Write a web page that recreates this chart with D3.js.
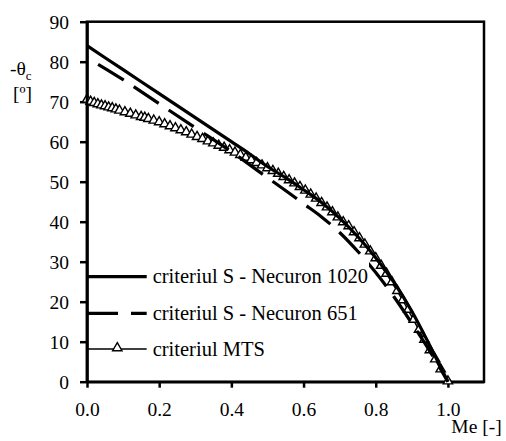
<!DOCTYPE html>
<html><head><meta charset="utf-8">
<script src="https://cdn.jsdelivr.net/npm/d3@7"></script>
<style>body{margin:0;background:#fff}svg{display:block}text{font-family:"Liberation Serif","Times New Roman",Tinos,"DejaVu Serif",serif !important;fill:#000}</style>
</head><body><svg id="c" width="506" height="441"></svg>
<script>
const xTicks = [0, 0.2, 0.4, 0.6, 0.8, 1.0];
const yTicks = [0, 10, 20, 30, 40, 50, 60, 70, 80, 90];
const seriesNames = ["criteriul S - Necuron 1020", "criteriul S - Necuron 651", "criteriul MTS"];

const necuron1020Me = [0, 0.1, 0.2, 0.3, 0.4, 0.45, 0.5, 0.55, 0.6, 0.65, 0.7, 0.75, 0.8, 0.85, 0.9, 0.95, 1.0];
const necuron1020Th = [84, 78, 72, 66, 60, 57, 53.8, 51.0, 48.0, 44.8, 40.9, 36.3, 31.0, 24.9, 17.6, 9.0, 0];

const necuron651Me = [0, 0.1, 0.2, 0.3, 0.4, 0.5, 0.55, 0.6, 0.65, 0.7, 0.75, 0.8, 0.85, 0.9, 0.95, 1.0];
const necuron651Th = [81, 75.5, 69.5, 63.5, 57.5, 51, 47.8, 44.5, 41.2, 37.3, 32.6, 27.3, 21.3, 14.6, 7.6, 0];

const mtsMe = [0.000,0.010,0.020,0.030,0.040,0.050,0.060,0.070,0.080,0.090,0.105,0.120,0.135,0.150,0.160,0.170,0.185,0.200,0.215,0.230,0.245,0.260,0.275,0.290,0.305,0.320,0.335,0.350,0.365,0.380,0.395,0.410,0.425,0.440,0.455,0.470,0.485,0.500,0.515,0.530,0.545,0.560,0.575,0.590,0.605,0.620,0.635,0.650,0.665,0.680,0.695,0.710,0.725,0.740,0.755,0.770,0.785,0.800,0.815,0.830,0.845,0.860,0.875,0.890,0.905,0.920,0.935,0.950,0.965,0.980,1.000];
const mtsTh = [70.4,69.9,69.6,69.3,69.0,68.8,68.5,68.3,68.0,67.7,67.3,66.9,66.5,66.1,65.9,65.6,65.2,64.8,64.3,63.8,63.3,62.8,62.3,61.7,61.1,60.6,60.0,59.5,58.9,58.4,57.8,57.2,56.6,55.9,55.3,54.6,54.0,53.3,52.6,51.9,51.1,50.3,49.5,48.6,47.7,46.7,45.7,44.6,43.5,42.3,41.0,39.8,38.8,37.3,35.8,34.2,32.5,30.8,28.9,26.9,24.8,22.6,20.3,17.9,15.4,12.9,10.4,7.8,5.5,3.0,0.0];

const FONT = '"Liberation Serif","Times New Roman",Tinos,"DejaVu Serif",serif';
const svg = d3.select("#c");
const x = d3.scaleLinear().domain([0, 1.1]).range([87, 484]);
const y = d3.scaleLinear().domain([0, 90]).range([381.7, 21.7]);

svg.append("rect").attr("x", x(0)).attr("y", y(90)).attr("width", x(1.1)-x(0)).attr("height", y(0)-y(90))
  .attr("fill","none").attr("stroke","#000").attr("stroke-width",2.5);

const fmtX = d3.format(".1f");
const xa = svg.append("g").attr("transform",`translate(0,${y(0)})`)
  .call(d3.axisBottom(x).tickValues(xTicks).tickSize(6).tickSizeOuter(0).tickFormat(fmtX));
xa.attr("font-family", FONT);
xa.select(".domain").attr("stroke-width",2.5);
xa.selectAll(".tick line").attr("stroke-width",2.5);
xa.selectAll("text").attr("font-size",19.5).attr("dy",null).attr("y",34);

const ya = svg.append("g").attr("transform",`translate(${x(0)},0)`)
  .call(d3.axisLeft(y).tickValues(yTicks).tickSize(7).tickSizeOuter(0));
ya.attr("font-family", FONT);
ya.select(".domain").attr("stroke-width",2.5);
ya.selectAll(".tick line").attr("stroke-width",2.5);
ya.selectAll("text").attr("font-size",19.5).attr("x",-18).attr("dy","0.34em");

const line = d3.line().x(d=>x(d[0])).y(d=>y(d[1])).curve(d3.curveMonotoneX);
const d1020 = necuron1020Me.map((m,i)=>[m, necuron1020Th[i]]);
const d651 = necuron651Me.map((m,i)=>[m, necuron651Th[i]]);
const dmts = mtsMe.map((m,i)=>[m, mtsTh[i]]);

svg.append("path").datum(dmts).attr("d", line).attr("fill","none").attr("stroke","#000").attr("stroke-width",1.5);
const tri = d3.symbol().type(d3.symbolTriangle).size(38);
svg.append("g").selectAll("path").data(dmts).join("path")
  .attr("d", tri).attr("transform", d=>`translate(${x(d[0])},${y(d[1])-0.5})`)
  .attr("fill","#fff").attr("stroke","#000").attr("stroke-width",1.4);

svg.append("path").datum(d1020).attr("d", line).attr("fill","none").attr("stroke","#000").attr("stroke-width",3.2);
svg.append("path").datum(d651).attr("d", line).attr("fill","none").attr("stroke","#000").attr("stroke-width",3.2)
  .attr("stroke-dasharray","30,12").attr("stroke-dashoffset",29);

const lg = svg.append("g").attr("font-family", FONT);
const lx0 = x(0), lx1 = 146.7, tx = 152.7;
const ly = [276.7, 313.3, 349];
lg.append("rect").attr("x",lx0+2).attr("y",262).attr("width",280).attr("height",100).attr("fill","#fff");
lg.append("line").attr("x1",lx0).attr("x2",lx1).attr("y1",ly[0]).attr("y2",ly[0]).attr("stroke","#000").attr("stroke-width",3.2);
lg.append("line").attr("x1",lx0).attr("x2",lx1).attr("y1",ly[1]).attr("y2",ly[1]).attr("stroke","#000").attr("stroke-width",3.2)
  .attr("stroke-dasharray","31,13");
lg.append("line").attr("x1",lx0).attr("x2",lx1).attr("y1",ly[2]).attr("y2",ly[2]).attr("stroke","#000").attr("stroke-width",1.5);
lg.append("path").attr("d",tri).attr("transform",`translate(117.3,${ly[2]-1})`).attr("fill","#fff").attr("stroke","#000").attr("stroke-width",1.4);
seriesNames.forEach((n,i)=>{
  lg.append("text").attr("x",tx).attr("y",ly[i]+6.5).attr("font-size",20.5).text(n);
});
svg.append("line").attr("x1",x(0)).attr("x2",x(0)).attr("y1",y(90)).attr("y2",y(0)).attr("stroke","#000").attr("stroke-width",2.5);

const tg = svg.append("g").attr("font-family", FONT);
const yt = tg.append("text").attr("x",10).attr("y",75).attr("font-size",19.5);
yt.append("tspan").text("-θ");
yt.append("tspan").attr("font-size",13).attr("dy",5).text("c");
tg.append("text").attr("x",13).attr("y",100).attr("font-size",19.5).text("[º]");
tg.append("text").attr("x",501.7).attr("y",433).attr("text-anchor","end").attr("font-size",19.5).text("Me [-]");
</script></body></html>
